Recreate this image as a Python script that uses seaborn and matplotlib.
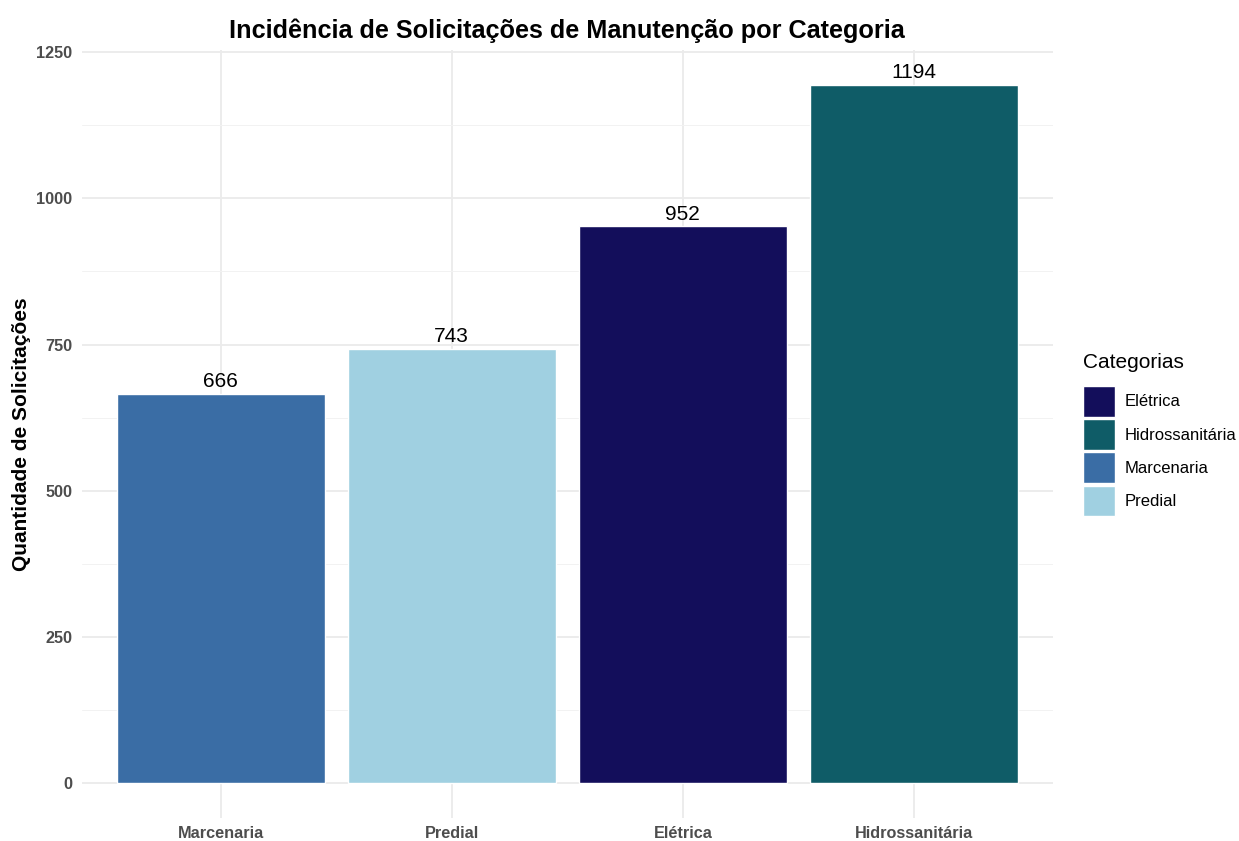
import matplotlib
matplotlib.use("Agg")
import matplotlib.pyplot as plt
import seaborn as sns
import pandas as pd
from matplotlib.patches import Patch
from matplotlib.ticker import MultipleLocator

categorias = ["Marcenaria", "Predial", "Elétrica", "Hidrossanitária"]
quantidades = [666, 743, 952, 1194]
ordem_legenda = ["Elétrica", "Hidrossanitária", "Marcenaria", "Predial"]
cores = {
    "Elétrica": "#130E5B",
    "Hidrossanitária": "#0F5C67",
    "Marcenaria": "#3A6DA5",
    "Predial": "#A0D0E1",
}

df = pd.DataFrame({"Categoria": categorias, "Quantidade": quantidades})

sns.set_theme(style="white")
plt.rcParams["font.family"] = ["Liberation Sans", "DejaVu Sans"]
plt.rcParams["text.color"] = "black"

fig = plt.figure(figsize=(12.39, 8.41), dpi=100)
ax = fig.add_axes([0.0662, 0.0273, 0.7833, 0.9132])

sns.barplot(
    data=df, x="Categoria", y="Quantidade", hue="Categoria",
    order=categorias, hue_order=ordem_legenda, palette=cores,
    dodge=False, width=0.9, saturation=1, legend=False, ax=ax, zorder=3,
)

for i, v in enumerate(quantidades):
    ax.text(i, v + 5, f"{v}", ha="center", va="bottom", fontsize=15,
            color="black", zorder=4)

ax.set_xlim(-0.6, len(categorias) - 0.4)
ax.yaxis.set_major_locator(MultipleLocator(250))
ax.yaxis.set_minor_locator(MultipleLocator(125))
ax.set_ylim(-0.05 * max(quantidades), 1253.7)

ax.grid(True, which="major", axis="both", color="#EBEBEB", linewidth=1.3, zorder=0)
ax.grid(True, which="minor", axis="y", color="#F2F2F2", linewidth=0.7, zorder=0)
ax.set_axisbelow(True)
for s in ax.spines.values():
    s.set_visible(False)

ax.tick_params(axis="both", which="both", length=0)
ax.tick_params(axis="y", pad=7)
ax.tick_params(axis="x", pad=6)
for lab in ax.get_xticklabels() + ax.get_yticklabels():
    lab.set_fontweight("bold")
    lab.set_fontsize(11.7)
    lab.set_color("#4D4D4D")

ax.set_xlabel("")
ax.set_ylabel("Quantidade de Solicitações", fontsize=15, fontweight="bold",
              color="black", labelpad=4)
ax.set_title("Incidência de Solicitações de Manutenção por Categoria",
             fontsize=18.2, fontweight="bold", color="black", pad=9)

handles = [Patch(facecolor=cores[c], edgecolor="white", label=c) for c in ordem_legenda]
leg = fig.legend(
    handles=handles, title="Categorias", loc="upper left",
    bbox_to_anchor=(1083 / 1239, 1 - 353 / 841), frameon=False, fontsize=12,
    title_fontsize=15, handlelength=1.9, handleheight=2.45,
    labelspacing=0.16, handletextpad=0.6, borderaxespad=0, borderpad=0,
)
leg._legend_box.align = "left"
leg._legend_box.sep = 10

fig.savefig("out.png", dpi=100)
